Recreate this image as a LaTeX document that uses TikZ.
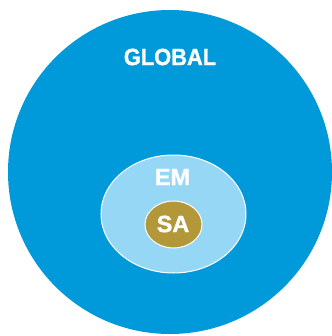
\documentclass[tikz,border=0pt]{standalone}
\usepackage{fontspec}
\setmainfont{Liberation Sans}
\newfontfamily\heavyfont[FakeBold=1.2]{Liberation Sans Bold}
\usetikzlibrary{shapes.geometric}
\definecolor{globalblue}{RGB}{0,153,218}
\definecolor{emblue}{RGB}{150,215,245}
\definecolor{sagold}{RGB}{178,152,56}
\tikzset{
  lbl/.style={text=white, font=\heavyfont\fontsize{23.5bp}{24bp}\selectfont, inner sep=0pt, anchor=center},
  region/.style={ellipse, inner sep=0pt, draw=white, line width=1bp}
}
\begin{document}
\begin{tikzpicture}[x=1bp,y=-1bp]
  \useasboundingbox (0,0) rectangle (332,336);
  \clip (0,0) rectangle (332,336);
  \node[circle, fill=globalblue, minimum size=324bp, inner sep=0pt] (global) at (170,172) {};
  \node[region, fill=emblue, minimum width=145bp, minimum height=118bp] (em) at (173.5,214) {};
  \node[region, fill=sagold, minimum width=57bp, minimum height=47bp] (sa) at (173.5,224.5) {};
  \node[lbl, xscale=0.93] (tglobal) at (170,57) {GLOBAL};
  \node[lbl] (tem) at (172.5,177) {EM};
  \node[lbl] (tsa) at (173,224) {SA};
\end{tikzpicture}
\end{document}
